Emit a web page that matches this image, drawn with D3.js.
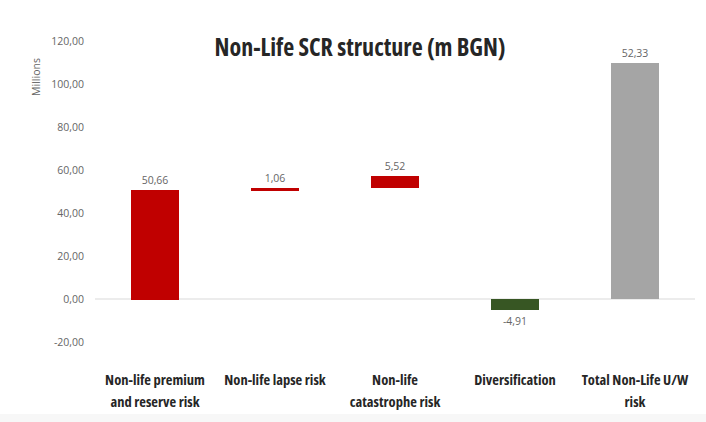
<!DOCTYPE html>
<html>
<head>
<meta charset="utf-8">
<script src="https://cdn.jsdelivr.net/npm/d3@7"></script>
<style>
  body { margin: 0; background: #fff; }
  text { font-family: "Open Sans", sans-serif; }
  rect { shape-rendering: crispEdges; }
</style>
</head>
<body>
<svg id="chart" width="706" height="422"></svg>
<script>
// waterfall built as a stacked chart: base series + step series
const categories = [
  ["Non-life premium", "and reserve risk"],
  ["Non-life lapse risk"],
  ["Non-life", "catastrophe risk"],
  ["Diversification"],
  ["Total Non-Life U/W", "risk"]
];
const baseValues = [0, 50.66, 51.72, 0, 57.24];
const stepValues = [50.66, 1.06, 5.52, -4.91, 52.33];
const baseColors = ["none", "none", "none", "none", "#a5a5a5"];
const stepColors = ["#c00000", "#c00000", "#c00000", "#375623", "#a5a5a5"];
const yTicks = [-20, 0, 20, 40, 60, 80, 100, 120];

const svg = d3.select("svg#chart");

svg.append("rect")
  .attr("x", 0).attr("y", 414)
  .attr("width", 706).attr("height", 8)
  .attr("fill", "#f7f7f7");

const x = d3.scaleBand()
  .domain(d3.range(categories.length))
  .range([95, 695])
  .paddingInner(0.6)
  .paddingOuter(0.3);

const y = d3.scaleLinear().domain([-20, 120]).range([342, 41]);

const fmt = (v) => d3.format(".2f")(v).replace(".", ",").replace("\u2212", "-");

// y axis labels
svg.append("g")
  .selectAll("text")
  .data(yTicks)
  .join("text")
  .attr("x", 84)
  .attr("y", (d) => y(d) + 4)
  .attr("text-anchor", "end")
  .attr("font-size", 10.5)
  .attr("fill", "#666")
  .text((d) => fmt(d));

svg.append("text")
  .attr("transform", "translate(40,77) rotate(-90)")
  .attr("text-anchor", "middle")
  .attr("font-size", 10.5)
  .attr("fill", "#666")
  .text("Millions");

// zero line
svg.append("line")
  .attr("x1", 95).attr("x2", 695)
  .attr("y1", y(0)).attr("y2", y(0))
  .attr("stroke", "#d9d9d9")
  .attr("stroke-width", 1);

const rows = stepValues.map((v, i) => ({
  i,
  v,
  lo: Math.min(baseValues[i], baseValues[i] + v),
  hi: Math.max(baseValues[i], baseValues[i] + v)
}));

// base series (only the total shows it)
svg.append("g")
  .selectAll("rect")
  .data(baseValues)
  .join("rect")
  .attr("x", (d, i) => x(i))
  .attr("width", x.bandwidth())
  .attr("y", (d) => y(d))
  .attr("height", (d) => y(0) - y(d))
  .attr("fill", (d, i) => baseColors[i]);

svg.append("g")
  .selectAll("rect")
  .data(rows)
  .join("rect")
  .attr("x", (d) => x(d.i))
  .attr("width", x.bandwidth())
  .attr("y", (d) => y(d.hi))
  .attr("height", (d) => Math.max(1.5, y(d.lo) - y(d.hi) + 0.5))
  .attr("fill", (d) => stepColors[d.i]);

// value labels
svg.append("g")
  .selectAll("text")
  .data(rows)
  .join("text")
  .attr("x", (d) => x(d.i) + x.bandwidth() / 2)
  .attr("y", (d) => (d.v < 0 ? y(d.lo) + 15 : y(d.hi) - 6))
  .attr("text-anchor", "middle")
  .attr("font-size", 10.5)
  .attr("fill", "#666")
  .text((d) => fmt(d.v));

// category labels
const cat = svg.append("g")
  .selectAll("text")
  .data(categories)
  .join("text")
  .attr("x", (d, i) => x(i) + x.bandwidth() / 2)
  .attr("y", 385)
  .attr("text-anchor", "middle")
  .attr("font-family", "'DejaVu Sans Condensed', 'DejaVu Sans', sans-serif")
  .attr("font-stretch", "condensed")
  .attr("font-weight", "bold")
  .attr("font-size", 14.5)
  .attr("fill", "#262626");

cat.selectAll("tspan")
  .data((d) => d)
  .join("tspan")
  .attr("x", function () { return d3.select(this.parentNode).attr("x"); })
  .attr("dy", (d, j) => (j === 0 ? 0 : 22))
  .text((d) => d);

svg.append("text")
  .attr("x", 360)
  .attr("y", 56)
  .attr("text-anchor", "middle")
  .attr("font-family", "'DejaVu Sans Condensed', 'DejaVu Sans', sans-serif")
  .attr("font-stretch", "condensed")
  .attr("font-weight", "bold")
  .attr("font-size", 24)
  .attr("fill", "#262626")
  .text("Non-Life SCR structure (m BGN)");
</script>
</body>
</html>
